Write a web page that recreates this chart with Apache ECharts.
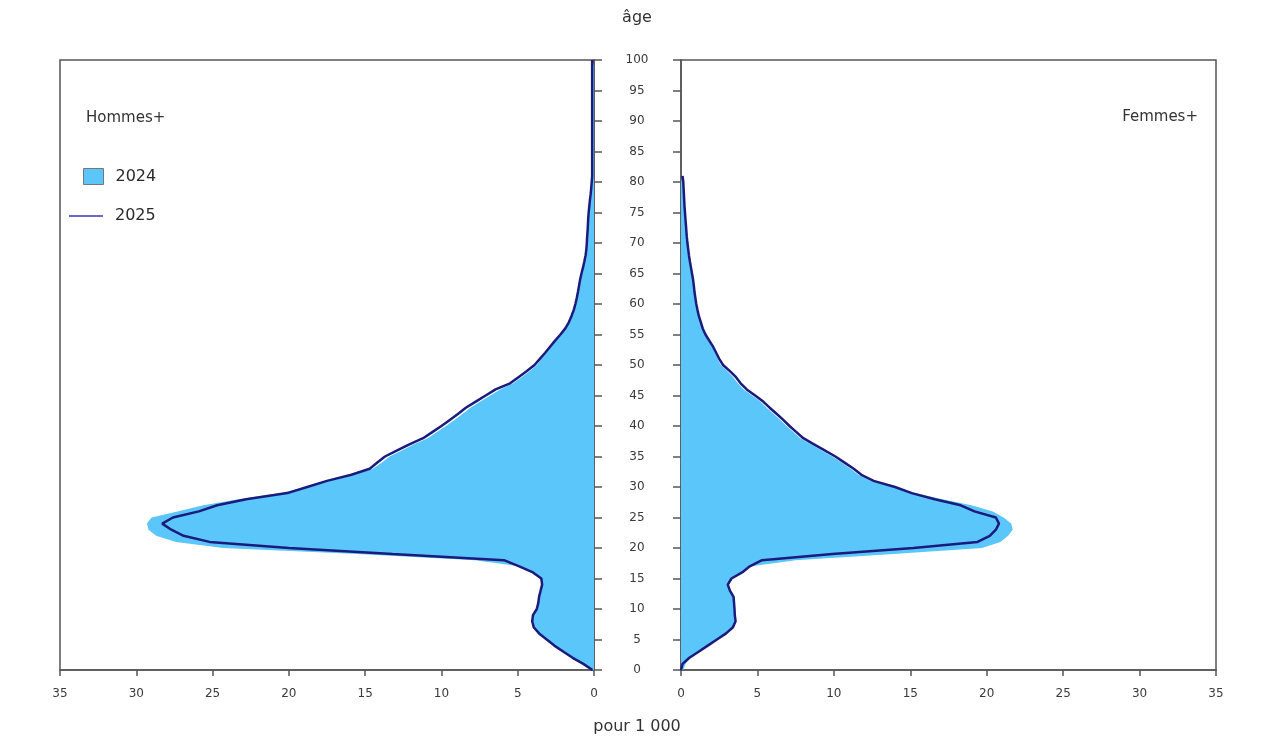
<!DOCTYPE html>
<html>
<head>
<meta charset="utf-8">
<script src="https://cdn.jsdelivr.net/npm/echarts@6/dist/echarts.min.js"></script>
<style>
html,body{margin:0;padding:0;background:#fff;}
#chart{width:1282px;height:743px;}
</style>
</head>
<body>
<div id="chart"></div>
<script>
// Ages 0..100
const ages = Array.from({length: 101}, (_, i) => String(i));
const xTicks = [0, 5, 10, 15, 20, 25, 30, 35];

// Hommes 2024 (filled area), pour 1 000
const hommes2024 = [
 0.1,0.7,1.4,2.0,2.6,3.1,3.6,3.95,4.05,4.0,
 3.75,3.65,3.6,3.5,3.4,3.45,4.0,4.9,7.8,15.5,
 24.3,27.4,28.7,29.2,29.3,29.0,27.3,25.6,23.3,20.5,
 18.9,17.3,15.7,14.5,13.9,13.4,12.6,11.8,10.9,10.3,
 9.7,9.15,8.6,8.1,7.45,6.8,6.15,5.3,4.75,4.2,
 3.75,3.45,3.12,2.82,2.5,2.16,1.86,1.64,1.47,1.32,
 1.21,1.12,1.04,0.97,0.9,0.81,0.71,0.62,0.54,0.5,
 0.46,0.44,0.41,0.39,0.37,0.34,0.3,0.26,0.21,0.17,
 0.14,0.11,0.11,0.11,0.11,0.11,0.11,0.11,0.11,0.11,
 0.11,0.11,0.11,0.11,0.11,0.11,0.11,0.11,0.11,0.11,
 0.11
];
// Hommes 2025 (line)
const hommes2025 = [
 0.1,0.7,1.4,2.0,2.6,3.1,3.6,3.95,4.05,4.0,
 3.75,3.65,3.6,3.5,3.4,3.45,4.0,4.9,5.9,13.2,
 20.0,25.2,26.9,27.7,28.3,27.6,25.9,24.7,22.8,20.1,
 18.8,17.5,15.9,14.7,14.2,13.7,12.9,12.1,11.2,10.6,
 10.0,9.45,8.9,8.4,7.75,7.1,6.45,5.5,4.95,4.4,
 3.9,3.55,3.2,2.88,2.55,2.2,1.88,1.65,1.48,1.33,
 1.22,1.13,1.05,0.98,0.91,0.82,0.72,0.63,0.55,0.5,
 0.47,0.45,0.42,0.4,0.38,0.35,0.31,0.27,0.22,0.18,
 0.15,0.12,0.12,0.12,0.12,0.12,0.12,0.12,0.12,0.12,
 0.12,0.12,0.12,0.12,0.12,0.12,0.12,0.12,0.12,0.12,
 0.12
];
// Femmes 2024 (filled area)
const femmes2024 = [
 0.15,0.3,0.6,1.15,1.75,2.35,2.95,3.4,3.57,3.52,
 3.5,3.47,3.44,3.2,3.06,3.3,3.95,4.6,7.5,13.9,
 19.7,20.9,21.4,21.7,21.6,21.1,20.4,19.0,17.1,15.3,
 14.0,12.4,11.6,11.1,10.5,9.9,9.2,8.5,7.8,7.35,
 6.9,6.5,6.05,5.6,5.2,4.65,4.1,3.72,3.42,3.03,
 2.6,2.4,2.22,2.04,1.8,1.57,1.4,1.28,1.16,1.07,
 0.99,0.93,0.87,0.83,0.78,0.71,0.64,0.57,0.51,0.46,
 0.41,0.37,0.34,0.31,0.28,0.25,0.22,0.2,0.18,0.16,
 0.14,0.09,null,null,null,null,null,null,null,null,
 null,null,null,null,null,null,null,null,null,null,
 null
];
// Femmes 2025 (line)
const femmes2025 = [
 0.0,0.1,0.55,1.15,1.75,2.35,2.95,3.4,3.57,3.52,
 3.5,3.47,3.44,3.2,3.06,3.3,4.0,4.5,5.3,9.9,
 15.2,19.4,20.2,20.6,20.8,20.6,19.2,18.3,16.6,15.1,
 14.0,12.6,11.8,11.3,10.7,10.1,9.4,8.7,8.0,7.55,
 7.1,6.69,6.25,5.8,5.38,4.85,4.3,3.9,3.6,3.2,
 2.75,2.5,2.3,2.1,1.85,1.6,1.42,1.3,1.17,1.08,
 1.0,0.94,0.88,0.84,0.79,0.72,0.65,0.58,0.52,0.47,
 0.42,0.38,0.35,0.32,0.29,0.26,0.23,0.21,0.19,0.17,
 0.15,0.1,null,null,null,null,null,null,null,null,
 null,null,null,null,null,null,null,null,null,null,
 null
];

const FILL = '#5bc6f9';
const LINE = '#1b1b7e';
const AXIS = '#555555';
const FONT = 'DejaVu Sans';

const chart = echarts.init(document.getElementById('chart'), null, {renderer: 'canvas'});

function xAxis(gridIndex, inverse) {
  return {
    type: 'value', gridIndex, inverse, min: 0, max: 35, interval: 5,
    axisLine: {show: true, onZero: false, lineStyle: {color: AXIS, width: 1.5}},
    axisTick: {show: true, length: 6, lineStyle: {color: AXIS, width: 1.5}},
    axisLabel: {
      show: true, margin: 18, color: '#3a3a3a', fontFamily: FONT, fontSize: 12,
      customValues: xTicks
    },
    splitLine: {show: false}
  };
}

function yAxis(gridIndex, position, showLabels) {
  return {
    type: 'category', gridIndex, position, data: ages, boundaryGap: false,
    axisLine: {show: true, onZero: false, lineStyle: {color: AXIS, width: 1.5}},
    axisTick: {show: true, interval: 4, length: 8, inside: false, lineStyle: {color: AXIS, width: 1.5}},
    axisLabel: {
      show: showLabels, interval: 4, margin: 43, align: 'center',
      color: '#3a3a3a', fontFamily: FONT, fontSize: 12
    },
    splitLine: {show: false}
  };
}

const option = {
  backgroundColor: '#ffffff',
  animation: false,
  textStyle: {fontFamily: FONT},
  grid: [
    {left: 60, top: 60, width: 534, height: 610, show: true, borderColor: AXIS, borderWidth: 1.5, containLabel: false},
    {left: 681, top: 60, width: 535, height: 610, show: true, borderColor: AXIS, borderWidth: 1.5, containLabel: false}
  ],
  xAxis: [xAxis(0, true), xAxis(1, false)],
  yAxis: [yAxis(0, 'right', true), yAxis(1, 'left', false)],
  legend: [
    {
      data: [{name: '2024', itemStyle: {color: FILL, borderColor: '#777', borderWidth: 1}}],
      left: 83, top: 168, padding: 0, icon: 'rect', itemWidth: 20, itemHeight: 16,
      textStyle: {fontFamily: FONT, fontSize: 16, color: '#2a2a2a', padding: [0, 0, 0, 7]},
      selectedMode: false
    },
    {
      data: [{name: '2025', itemStyle: {color: '#6a6ac6'}}],
      left: 69, top: 208, padding: 0, icon: 'rect', itemWidth: 34, itemHeight: 2,
      textStyle: {fontFamily: FONT, fontSize: 16, color: '#2a2a2a', padding: [0, 0, 0, 7]},
      selectedMode: false
    }
  ],
  graphic: [
    {type: 'text', x: 637, y: 18, style: {text: 'âge', font: '16px "DejaVu Sans"', fill: '#333', align: 'center', verticalAlign: 'middle'}},
    {type: 'text', x: 637, y: 727, style: {text: 'pour 1 000', font: '16px "DejaVu Sans"', fill: '#333', align: 'center', verticalAlign: 'middle'}},
    {type: 'text', x: 86, y: 118, style: {text: 'Hommes+', font: '15px "DejaVu Sans"', fill: '#333', align: 'left', verticalAlign: 'middle'}},
    {type: 'text', x: 1198, y: 117, style: {text: 'Femmes+', font: '15px "DejaVu Sans"', fill: '#333', align: 'right', verticalAlign: 'middle'}}
  ],
  series: [
    {
      name: '2024', type: 'line', xAxisIndex: 0, yAxisIndex: 0, data: hommes2024,
      symbol: 'none', color: FILL, lineStyle: {width: 0, color: FILL},
      areaStyle: {color: FILL, opacity: 1}, z: 2
    },
    {
      name: '2024', type: 'line', xAxisIndex: 1, yAxisIndex: 1, data: femmes2024,
      symbol: 'none', color: FILL, lineStyle: {width: 0, color: FILL},
      areaStyle: {color: FILL, opacity: 1}, z: 2
    },
    {
      name: '2025', type: 'line', xAxisIndex: 0, yAxisIndex: 0, data: hommes2025,
      symbol: 'none', color: LINE, lineStyle: {width: 2.5, color: LINE}, z: 3
    },
    {
      name: '2025', type: 'line', xAxisIndex: 1, yAxisIndex: 1, data: femmes2025,
      symbol: 'none', color: LINE, lineStyle: {width: 2.5, color: LINE}, z: 3
    }
  ]
};

chart.setOption(option);
</script>
</body>
</html>
